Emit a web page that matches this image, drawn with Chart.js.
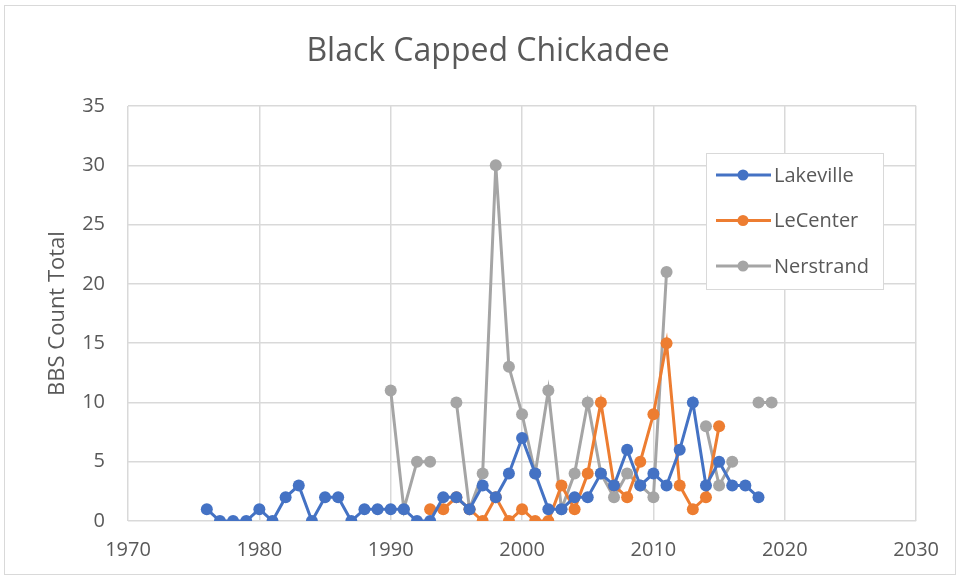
<!DOCTYPE html>
<html>
<head>
<meta charset="utf-8">
<script src="https://cdn.jsdelivr.net/npm/chart.js@4/dist/chart.umd.min.js"></script>
<style>
  html, body { margin: 0; padding: 0; background: #fff; }
  #wrap { width: 956px; height: 578px; }
</style>
</head>
<body>
<div id="wrap"><canvas id="chickadee" width="956" height="578"></canvas></div>
<script>
// years and counts, null where a route was not run
const lakevilleYears = [1976, 1977, 1978, 1979, 1980, 1981, 1982, 1983, 1984, 1985, 1986, 1987, 1988, 1989, 1990,
  1991, 1992, 1993, 1994, 1995, 1996, 1997, 1998, 1999, 2000, 2001, 2002, 2003, 2004, 2005, 2006, 2007, 2008,
  2009, 2010, 2011, 2012, 2013, 2014, 2015, 2016, 2017, 2018];
const lakevilleCounts = [1, 0, 0, 0, 1, 0, 2, 3, 0, 2, 2, 0, 1, 1, 1,
  1, 0, 0, 2, 2, 1, 3, 2, 4, 7, 4, 1, 1, 2, 2, 4, 3, 6,
  3, 4, 3, 6, 10, 3, 5, 3, 3, 2];

const lecenterYears = [1993, 1994, 1995, 1996, 1997, 1998, 1999, 2000, 2001, 2002, 2003, 2004, 2005, 2006, 2007,
  2008, 2009, 2010, 2011, 2012, 2013, 2014, 2015];
const lecenterCounts = [1, 1, 2, 1, 0, 2, 0, 1, 0, 0, 3, 1, 4, 10, 3,
  2, 5, 9, 15, 3, 1, 2, 8];

const nerstrandYears = [1990, 1991, 1992, 1993, 1994, 1995, 1996, 1997, 1998, 1999, 2000, 2001, 2002, 2003, 2004,
  2005, 2006, 2007, 2008, 2009, 2010, 2011, 2012, 2013, 2014, 2015, 2016, 2017, 2018, 2019];
const nerstrandCounts = [11, 1, 5, 5, null, 10, 1, 4, 30, 13, 9, 4, 11, 1, 4,
  10, 4, 2, 4, 3, 2, 21, null, null, 8, 3, 5, null, 10, 10];

const xTicks = [1970, 1980, 1990, 2000, 2010, 2020, 2030];
const yTicks = [0, 5, 10, 15, 20, 25, 30, 35];

const seriesNames = ['Lakeville', 'LeCenter', 'Nerstrand'];
const seriesColors = ['#4472C4', '#ED7D31', '#A5A5A5'];

const toPoints = (years, counts) => years.map((yr, i) => ({ x: yr, y: counts[i] }));

const textColor = '#595959';
const gridColor = '#d9d9d9';
const fontFamily = "'Open Sans', 'Noto Sans', sans-serif";

const makeSet = (i, years, counts) => ({
  label: seriesNames[i],
  data: toPoints(years, counts),
  borderColor: seriesColors[i],
  backgroundColor: seriesColors[i],
  borderWidth: 3,
  pointRadius: 6,
  pointHoverRadius: 6,
  pointBorderWidth: 0,
  spanGaps: false,
  tension: 0
});

// border round the whole picture
const frame = {
  id: 'frame',
  beforeDraw(chart) {
    const { ctx } = chart;
    ctx.save();
    ctx.fillStyle = '#fff';
    ctx.fillRect(0, 0, chart.width, chart.height);
    ctx.strokeStyle = gridColor;
    ctx.lineWidth = 1;
    ctx.strokeRect(4.5, 5.5, 951, 569);
    ctx.restore();
  }
};

// legend box sitting inside the plot, as in the spreadsheet chart
const insideLegend = {
  id: 'insideLegend',
  afterDraw(chart) {
    const { ctx } = chart;
    const x = 706, y = 153, w = 177, h = 136;
    ctx.save();
    ctx.fillStyle = '#fff';
    ctx.fillRect(x, y, w, h);
    ctx.strokeStyle = gridColor;
    ctx.lineWidth = 1;
    ctx.strokeRect(x + 0.5, y + 0.5, w, h);
    ctx.font = '20px ' + fontFamily;
    ctx.textBaseline = 'middle';
    chart.data.datasets.forEach((ds, i) => {
      const ly = 175 + i * 45.5;
      ctx.strokeStyle = ds.borderColor;
      ctx.lineWidth = 3;
      ctx.beginPath();
      ctx.moveTo(716, ly);
      ctx.lineTo(771, ly);
      ctx.stroke();
      ctx.fillStyle = ds.borderColor;
      ctx.beginPath();
      ctx.arc(743, ly, 5.5, 0, Math.PI * 2);
      ctx.fill();
      ctx.fillStyle = textColor;
      ctx.fillText(ds.label, 774, ly + 1);
    });
    ctx.restore();
  }
};

new Chart('chickadee', {
  type: 'line',
  plugins: [frame, insideLegend],
  data: {
    datasets: [
      makeSet(0, lakevilleYears, lakevilleCounts),
      makeSet(1, lecenterYears, lecenterCounts),
      makeSet(2, nerstrandYears, nerstrandCounts)
    ]
  },
  options: {
    responsive: false,
    animation: false,
    layout: { padding: { left: 37, right: 17, top: 0, bottom: 0 } },
    plugins: {
      legend: { display: false },
      tooltip: { enabled: false },
      title: {
        display: true,
        text: 'Black Capped Chickadee',
        color: textColor,
        font: { family: fontFamily, size: 32, weight: 'normal' },
        padding: { top: 33, bottom: 34.6 }
      }
    },
    scales: {
      x: {
        type: 'linear',
        min: 1970,
        max: 2030,
        afterBuildTicks: (scale) => { scale.ticks = xTicks.map(v => ({ value: v })); },
        afterFit: (scale) => { scale.height = 57; },
        grid: { color: gridColor, lineWidth: 1.5, drawTicks: false },
        border: { display: false },
        ticks: {
          color: textColor,
          padding: 17,
          font: { family: fontFamily, size: 20 },
          callback: (v) => String(v)
        }
      },
      y: {
        min: 0,
        max: 35,
        afterBuildTicks: (scale) => { scale.ticks = yTicks.map(v => ({ value: v })); },
        afterFit: (scale) => { scale.width = 91; },
        grid: { color: gridColor, lineWidth: 1.5, drawTicks: false },
        border: { display: false },
        ticks: {
          color: textColor,
          padding: 23,
          font: { family: fontFamily, size: 20 }
        },
        title: {
          display: true,
          text: 'BBS Count Total',
          color: textColor,
          font: { family: fontFamily, size: 22 },
          padding: { top: 8, bottom: 0 }
        }
      }
    }
  }
});
</script>
</body>
</html>
